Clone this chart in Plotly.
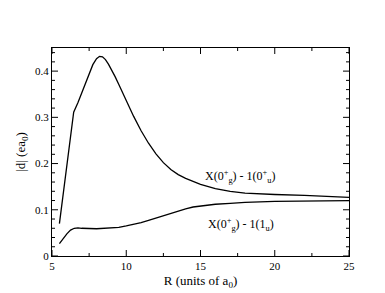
import plotly.graph_objects as go

R_upper = [5.5, 5.75, 6.0, 6.25, 6.46, 6.75, 7.0, 7.25, 7.5, 7.75, 8.0, 8.2, 8.4, 8.6, 8.8, 9.0, 9.25, 9.5, 9.75, 10.0, 10.5, 11.0, 11.5, 12.0, 12.5, 13.0, 13.5, 14.0, 15.0, 16.0, 17.0, 18.0, 19.0, 20.0, 22.0, 25.0]
d_upper = [0.070, 0.130, 0.190, 0.252, 0.311, 0.332, 0.352, 0.374, 0.395, 0.414, 0.427, 0.432, 0.431, 0.425, 0.415, 0.404, 0.388, 0.371, 0.353, 0.335, 0.302, 0.271, 0.244, 0.221, 0.202, 0.187, 0.176, 0.168, 0.155, 0.146, 0.140, 0.136, 0.134, 0.133, 0.131, 0.127]

R_lower = [5.5, 5.75, 6.0, 6.25, 6.5, 6.75, 7.0, 8.0, 9.0, 9.5, 10.0, 10.5, 11.0, 11.5, 12.0, 12.5, 13.0, 13.5, 14.0, 14.5, 15.0, 16.0, 17.0, 18.0, 20.0, 22.0, 25.0]
d_lower = [0.027, 0.038, 0.048, 0.056, 0.060, 0.061, 0.060, 0.059, 0.060, 0.062, 0.065, 0.068, 0.072, 0.077, 0.082, 0.087, 0.093, 0.098, 0.102, 0.106, 0.108, 0.112, 0.114, 0.116, 0.118, 0.119, 0.120]

x_major = [5, 10, 15, 20, 25]
x_minor = [7.5, 12.5, 17.5, 22.5]
y_major = [0, 0.1, 0.2, 0.3, 0.4]
y_minor = [0.02, 0.04, 0.06, 0.08, 0.12, 0.14, 0.16, 0.18, 0.22, 0.24, 0.26, 0.28,
           0.32, 0.34, 0.36, 0.38, 0.42, 0.44]

label_upper = "X(0<sup>+</sup><sub>g</sub>) - 1(0<sup>+</sup><sub>u</sub>)"
label_lower = "X(0<sup>+</sup><sub>g</sub>) - 1(1<sub>u</sub>)"

FONT = "Liberation Serif"

fig = go.Figure()
fig.add_trace(go.Scatter(x=R_upper, y=d_upper, mode="lines",
                         line=dict(color="black", width=1.3)))
fig.add_trace(go.Scatter(x=R_lower, y=d_lower, mode="lines",
                         line=dict(color="black", width=1.3)))

fig.add_annotation(x=17.7, y=0.172, text=label_upper, showarrow=False,
                   font=dict(family=FONT, size=12, color="black"))
fig.add_annotation(x=17.75, y=0.068, text=label_lower, showarrow=False,
                   font=dict(family=FONT, size=12, color="black"))

# tick marks on all four sides, drawn inward from the frame
tick_line = dict(color="black", width=1)
for vals, ln in ((x_major, 6), (x_minor, 3)):
    for v in vals:
        fig.add_shape(type="line", xref="x", yref="paper", ysizemode="pixel", yanchor=0,
                      x0=v, x1=v, y0=0, y1=ln, line=tick_line)
        fig.add_shape(type="line", xref="x", yref="paper", ysizemode="pixel", yanchor=1,
                      x0=v, x1=v, y0=0, y1=-ln, line=tick_line)
for vals, ln in ((y_major, 6), (y_minor, 3)):
    for v in vals:
        fig.add_shape(type="line", xref="paper", yref="y", xsizemode="pixel", xanchor=0,
                      x0=0, x1=ln, y0=v, y1=v, line=tick_line)
        fig.add_shape(type="line", xref="paper", yref="y", xsizemode="pixel", xanchor=1,
                      x0=0, x1=-ln, y0=v, y1=v, line=tick_line)

fig.update_xaxes(range=[5, 25], tickmode="array", tickvals=x_major,
                 showgrid=False, zeroline=False, showline=True, linecolor="black", linewidth=1,
                 mirror=True, ticks="", ticklen=0,
                 tickfont=dict(family=FONT, size=11, color="black"),
                 title=dict(text="R (units of a<sub>0</sub>)", standoff=4,
                            font=dict(family=FONT, size=13, color="black")))
fig.update_yaxes(range=[0, 0.45], tickmode="array", tickvals=y_major,
                 showgrid=False, zeroline=False, showline=True, linecolor="black", linewidth=1,
                 mirror=True, ticks="", ticklen=0,
                 tickfont=dict(family=FONT, size=11, color="black"),
                 title=dict(text="|d| (ea<sub>0</sub>)", standoff=6,
                            font=dict(family=FONT, size=13, color="black")))

fig.update_layout(width=385, height=293,
                  margin=dict(l=44, r=44, t=40, b=45),
                  paper_bgcolor="white", plot_bgcolor="white", showlegend=False,
                  font=dict(family=FONT, color="black"))

fig.write_html("out.html")
